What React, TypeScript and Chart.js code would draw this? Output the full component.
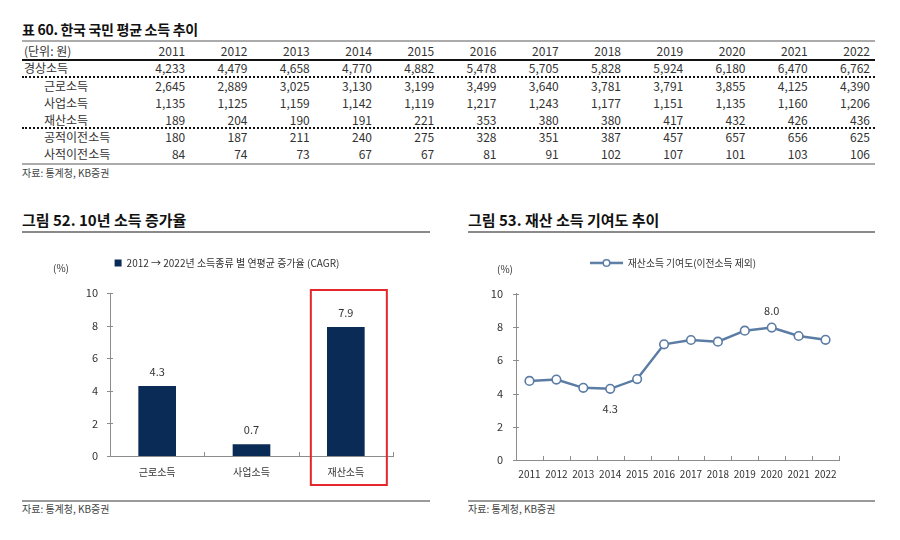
import React, { useEffect, useRef } from "react";
import { Chart, registerables } from "chart.js";

Chart.register(...registerables);

// ---------- data ----------
const years = ["2011", "2012", "2013", "2014", "2015", "2016", "2017", "2018", "2019", "2020", "2021", "2022"];
const rowLabels = ["경상소득", "근로소득", "사업소득", "재산소득", "공적이전소득", "사적이전소득"];
const regularIncome = [4233, 4479, 4658, 4770, 4882, 5478, 5705, 5828, 5924, 6180, 6470, 6762];
const laborIncome = [2645, 2889, 3025, 3130, 3199, 3499, 3640, 3781, 3791, 3855, 4125, 4390];
const businessIncome = [1135, 1125, 1159, 1142, 1119, 1217, 1243, 1177, 1151, 1135, 1160, 1206];
const propertyIncome = [189, 204, 190, 191, 221, 353, 380, 380, 417, 432, 426, 436];
const publicTransfer = [180, 187, 211, 240, 275, 328, 351, 387, 457, 657, 656, 625];
const privateTransfer = [84, 74, 73, 67, 67, 81, 91, 102, 107, 101, 103, 106];

const cagrCategories = ["근로소득", "사업소득", "재산소득"];
const cagrValues = [4.27, 0.7, 7.89];
const cagrLabels = ["4.3", "0.7", "7.9"];
const cagrLegend = "2012 → 2022년 소득종류 별 연평균 증가율 (CAGR)";

const shareYears = ["2011", "2012", "2013", "2014", "2015", "2016", "2017", "2018", "2019", "2020", "2021", "2022"];
const propertyShare = [4.76, 4.84, 4.34, 4.28, 4.87, 6.96, 7.22, 7.12, 7.78, 7.97, 7.46, 7.23];
const shareLegend = "재산소득 기여도(이전소득 제외)";
const shareNotes = [
  { index: 3, text: "4.3", below: true },
  { index: 9, text: "8.0", below: false },
];

const tableTitle = "표 60. 한국 국민 평균 소득 추이";
const unitLabel = "(단위: 원)";
const chart1Title = "그림 52. 10년 소득 증가율";
const chart2Title = "그림 53. 재산 소득 기여도 추이";
const sourceText = "자료: 통계청, KB증권";

// ---------- styles ----------
const FONT = '"Noto Sans CJK KR", "Noto Sans", sans-serif';
const TEXT = "#333333";
const AXIS = "#8c8c8c";
const NAVY = "#0a2b55";
const STEEL = "#5b7ca4";
const RED = "#e5262a";

// adds extra space below the legend and centres it on the whole canvas
const legendGapPlugin = {
  id: "legendGap",
  afterInit(chart: any, _args: any, opts: any) {
    const lg = chart.legend;
    if (!lg) return;
    const orig = lg.fit.bind(lg);
    lg.fit = () => {
      orig();
      lg.height += opts.extra || 0;
    };
  },
  afterLayout(chart: any) {
    const lg = chart.legend;
    if (!lg) return;
    lg.left = 0;
    lg.right = chart.width;
    lg.width = chart.width;
  },
};

const decoPlugin = {
  id: "deco",
  afterDraw(chart: any, _args: any, opts: any) {
    const { ctx, chartArea, scales } = chart;
    const xs = scales.x;
    const ys = scales.y;
    ctx.save();
    ctx.strokeStyle = AXIS;
    ctx.lineWidth = 1;
    // y tick marks crossing the axis
    ys.ticks.forEach((t: any) => {
      const py = Math.round(ys.getPixelForValue(t.value)) + 0.5;
      ctx.beginPath();
      ctx.moveTo(chartArea.left - 3, py);
      ctx.lineTo(chartArea.left + 3, py);
      ctx.stroke();
    });
    // x boundary tick marks pointing up
    const n = xs.ticks.length;
    for (let i = 1; i <= n; i++) {
      const px = Math.round(xs.getPixelForValue(i - 0.5)) + 0.5;
      ctx.beginPath();
      ctx.moveTo(px, chartArea.bottom);
      ctx.lineTo(px, chartArea.bottom - 4);
      ctx.stroke();
    }
    // unit label
    ctx.fillStyle = TEXT;
    ctx.font = `10px ${FONT}`;
    ctx.textAlign = "center";
    ctx.textBaseline = "middle";
    ctx.fillText("(%)", chartArea.left + opts.unitDx, chartArea.top + opts.unitDy);
    // value labels
    const meta = chart.getDatasetMeta(0);
    ctx.font = `11px ${FONT}`;
    (opts.notes || []).forEach((nt: any) => {
      const el = meta.data[nt.index];
      ctx.fillText(nt.text, el.x, el.y + nt.dy);
    });
    // highlight box
    if (opts.highlight) {
      const h = opts.highlight;
      const el = meta.data[h.index];
      ctx.strokeStyle = RED;
      ctx.lineWidth = 2;
      ctx.strokeRect(el.x - h.left, chartArea.top - h.top, h.left + h.right, chartArea.bottom - chartArea.top + h.top + h.bottom);
    }
    ctx.restore();
  },
};

function makeLegendImage() {
  const c = document.createElement("canvas");
  c.width = 33;
  c.height = 10;
  const g = c.getContext("2d")!;
  g.strokeStyle = STEEL;
  g.lineWidth = 2.5;
  g.beginPath();
  g.moveTo(0, 5);
  g.lineTo(33, 5);
  g.stroke();
  g.fillStyle = "#ffffff";
  g.lineWidth = 1.5;
  g.beginPath();
  g.arc(16.5, 5, 3.3, 0, Math.PI * 2);
  g.fill();
  g.stroke();
  return c;
}

function BarChart() {
  const ref = useRef<HTMLCanvasElement>(null);
  useEffect(() => {
    const chart = new Chart(ref.current!, {
      type: "bar",
      data: {
        labels: cagrCategories,
        datasets: [
          {
            label: cagrLegend,
            data: cagrValues,
            backgroundColor: NAVY,
            borderWidth: 0,
            barThickness: 37,
          },
        ],
      },
      options: {
        animation: false,
        responsive: false,
        layout: { padding: { left: 0, right: 39, top: 8, bottom: 14 } },
        plugins: {
          legend: {
            position: "top",
            labels: { boxWidth: 7, boxHeight: 7, color: TEXT, font: { size: 10, family: FONT }, padding: 10 },
          },
          legendGap: { extra: 15 },
          tooltip: { enabled: false },
          deco: {
            unitDx: -49,
            unitDy: -25,
            notes: cagrLabels.map((t, i) => ({ index: i, text: t, dy: -15 })),
            highlight: { index: 2, left: 35, right: 41, top: 3, bottom: 29 },
          },
        } as any,
        scales: {
          x: {
            grid: { display: false, drawTicks: false },
            border: { color: AXIS, width: 1 },
            ticks: { color: TEXT, font: { size: 10, family: FONT }, padding: 10 },
            afterFit: (s: any) => { s.height = 30; },
          },
          y: {
            min: 0,
            max: 10,
            ticks: { stepSize: 2, color: TEXT, font: { size: 11, family: FONT }, padding: 12 },
            grid: { display: false, drawTicks: false },
            border: { color: AXIS, width: 1 },
            afterFit: (s: any) => { s.width = 88; },
          },
        },
      },
      plugins: [legendGapPlugin, decoPlugin],
    });
    return () => chart.destroy();
  }, []);
  return <canvas ref={ref} width={410} height={260} style={{ position: "absolute", left: 22, top: 240, width: 410, height: 260 }} />;
}

function LineChart() {
  const ref = useRef<HTMLCanvasElement>(null);
  useEffect(() => {
    const legendImg = makeLegendImage();
    const chart = new Chart(ref.current!, {
      type: "line",
      data: {
        labels: shareYears,
        datasets: [
          {
            label: shareLegend,
            data: propertyShare,
            borderColor: STEEL,
            borderWidth: 2.5,
            pointRadius: 4.3,
            pointBorderWidth: 1.6,
            pointBackgroundColor: "#ffffff",
            pointBorderColor: STEEL,
            tension: 0,
          },
        ],
      },
      options: {
        animation: false,
        responsive: false,
        layout: { padding: { left: 0, right: 39, top: 8, bottom: 10 } },
        plugins: {
          legend: {
            position: "top",
            labels: {
              usePointStyle: true,
              pointStyleWidth: 33,
              color: TEXT,
              font: { size: 9.8, family: FONT },
              padding: 10,
              generateLabels: (c: any) =>
                (Chart as any).defaults.plugins.legend.labels.generateLabels(c).map((l: any) => ({ ...l, pointStyle: legendImg })),
            },
          },
          legendGap: { extra: 16 },
          tooltip: { enabled: false },
          deco: {
            unitDx: -11,
            unitDy: -25,
            notes: shareNotes.map((n) => ({ index: n.index, text: n.text, dy: n.below ? 20 : -17 })),
          },
        } as any,
        scales: {
          x: {
            offset: true,
            grid: { display: false, drawTicks: false },
            border: { color: AXIS, width: 1 },
            ticks: { color: TEXT, font: { size: 10, family: FONT }, padding: 8, maxRotation: 0, autoSkip: false },
            afterFit: (s: any) => { s.height = 30; },
          },
          y: {
            min: 0,
            max: 10,
            ticks: { stepSize: 2, color: TEXT, font: { size: 11, family: FONT }, padding: 13 },
            grid: { display: false, drawTicks: false },
            border: { color: AXIS, width: 1 },
            afterFit: (s: any) => { s.width = 48; },
          },
        },
      },
      plugins: [legendGapPlugin, decoPlugin],
    });
    return () => chart.destroy();
  }, []);
  return <canvas ref={ref} width={410} height={260} style={{ position: "absolute", left: 468, top: 240, width: 410, height: 260 }} />;
}

const abs = (s: React.CSSProperties): React.CSSProperties => ({ position: "absolute", ...s });

function Table() {
  const left = 22;
  const right = 875;
  const labelW = 106;
  const colW = (right - left - labelW) / 12;
  const rows = [
    { label: rowLabels[0], values: regularIncome, indent: 0, cy: 68 },
    { label: rowLabels[1], values: laborIncome, indent: 1, cy: 85.5 },
    { label: rowLabels[2], values: businessIncome, indent: 1, cy: 102.5 },
    { label: rowLabels[3], values: propertyIncome, indent: 1, cy: 119.5 },
    { label: rowLabels[4], values: publicTransfer, indent: 1, cy: 137 },
    { label: rowLabels[5], values: privateTransfer, indent: 1, cy: 154 },
  ];
  const cell = (text: string, i: number, cy: number, key: string) => (
    <div key={key} style={abs({ left: left + labelW + colW * i, width: colW - 5, top: cy - 9, height: 18, lineHeight: "18px", textAlign: "right" })}>
      {text}
    </div>
  );
  return (
    <div style={{ fontFamily: FONT, fontSize: 12, color: TEXT }}>
      <div style={abs({ left: 22, top: 19, fontSize: 14, letterSpacing: "-0.3px", fontWeight: 700, color: "#111", lineHeight: "20px", whiteSpace: "nowrap" })}>{tableTitle}</div>
      <div style={abs({ left, width: right - left, top: 40, height: 2, background: "#ababab" })} />
      <div style={abs({ left: 24, top: 51 - 9, height: 18, lineHeight: "18px" })}>{unitLabel}</div>
      {years.map((y, i) => cell(y, i, 51, "h" + i))}
      <div style={abs({ left, width: right - left, top: 59, height: 2, background: "#111" })} />
      {rows.map((r, ri) => (
        <React.Fragment key={ri}>
          <div style={abs({ left: r.indent ? 44 : 24, top: r.cy - 9, height: 18, lineHeight: "18px", whiteSpace: "nowrap" })}>{r.label}</div>
          {r.values.map((v, i) => cell(v.toLocaleString("en-US"), i, r.cy, ri + "-" + i))}
        </React.Fragment>
      ))}
      <div style={abs({ left, width: right - left, top: 76, height: 0, borderTop: "2px dotted #111" })} />
      <div style={abs({ left, width: right - left, top: 127, height: 0, borderTop: "2px dotted #111" })} />
      <div style={abs({ left, width: right - left, top: 163, height: 2, background: "#ababab" })} />
      <div style={abs({ left: 22, top: 166, fontSize: 10, lineHeight: "14px", color: "#444" })}>{sourceText}</div>
    </div>
  );
}

function Panel({ x, w, title }: { x: number; w: number; title: string }) {
  return (
    <div style={{ fontFamily: FONT, color: TEXT }}>
      <div style={abs({ left: x, top: 210, fontSize: 15, fontWeight: 700, color: "#111", lineHeight: "20px", whiteSpace: "nowrap" })}>{title}</div>
      <div style={abs({ left: x, width: w, top: 231, height: 2, background: "#8a8a8a" })} />
      <div style={abs({ left: x, width: w, top: 500, height: 2, background: "#9a9a9a" })} />
      <div style={abs({ left: x, top: 502, fontSize: 10, lineHeight: "14px", color: "#444" })}>{sourceText}</div>
    </div>
  );
}

export default function App() {
  return (
    <div style={{ position: "fixed", left: 0, top: 0, width: 900, height: 540, background: "#ffffff", overflow: "hidden" }}>
      <Table />
      <Panel x={22} w={408} title={chart1Title} />
      <Panel x={468} w={407} title={chart2Title} />
      <BarChart />
      <LineChart />
    </div>
  );
}
